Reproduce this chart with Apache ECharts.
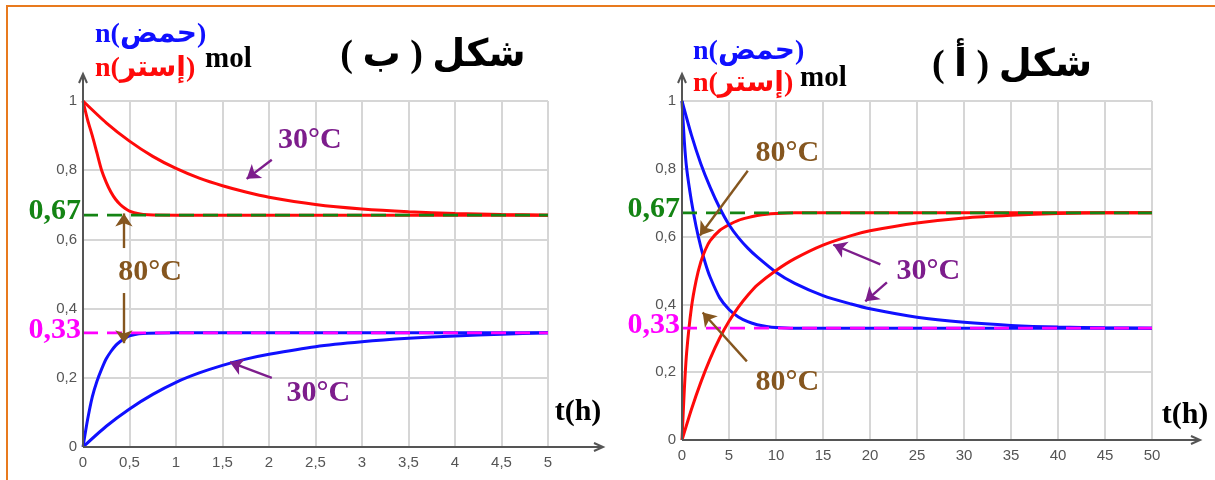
<!DOCTYPE html>
<html><head><meta charset="utf-8">
<script src="https://cdn.jsdelivr.net/npm/echarts@6/dist/echarts.min.js"></script>
<style>html,body{margin:0;padding:0;background:#fff}#c{width:1215px;height:480px}</style>
</head><body><div id="c"></div><script>
// ---------- Figure (ب) : ester n decreasing / acid n increasing, t in hours 0..5 ----------
const tB80 = [0,0.05,0.1,0.15,0.2,0.25,0.3,0.35,0.4,0.45,0.5,0.6,0.7,1,2,3,4,5];
const esterB80 = [1,0.945,0.9,0.85,0.8,0.765,0.737,0.716,0.701,0.69,0.682,0.674,0.671,0.67,0.67,0.67,0.67,0.67];
const acidB80 = [0,0.08,0.145,0.19,0.225,0.255,0.276,0.293,0.305,0.314,0.321,0.327,0.329,0.33,0.33,0.33,0.33,0.33];
const tB30 = [0,0.25,0.5,0.75,1,1.25,1.5,1.75,2,2.5,3,3.5,4,4.5,5];
const esterB30 = [1,0.937,0.884,0.84,0.805,0.777,0.755,0.737,0.722,0.701,0.688,0.68,0.675,0.672,0.67];
const acidB30 = [0,0.06,0.11,0.152,0.187,0.214,0.236,0.254,0.268,0.29,0.304,0.314,0.321,0.326,0.33];
// ---------- Figure (أ) : acid n decreasing / ester n increasing, t in hours 0..50 ----------
const tA80 = [0,0.25,0.5,1,1.5,2,2.5,3,4,5,6,7,8,9,10,12,20,30,40,50];
const acidA80 = [1,0.88,0.8,0.705,0.63,0.57,0.52,0.48,0.42,0.385,0.363,0.349,0.34,0.335,0.332,0.33,0.33,0.33,0.33,0.33];
const esterA80 = [0,0.15,0.26,0.39,0.47,0.525,0.562,0.588,0.618,0.635,0.648,0.656,0.662,0.666,0.668,0.67,0.67,0.67,0.67,0.67];
const tA30 = [0,1,2,3,4,5,6,7,8,10,12,15,18,20,25,30,35,40,45,50];
const esterA30 = [0,0.09,0.17,0.24,0.3,0.35,0.392,0.427,0.457,0.5,0.535,0.575,0.603,0.617,0.64,0.655,0.663,0.668,0.67,0.67];
const acidA30 = [1,0.9,0.815,0.745,0.685,0.635,0.597,0.566,0.54,0.495,0.462,0.426,0.401,0.387,0.362,0.347,0.338,0.333,0.331,0.33];
// equilibrium values
const eqEster = 0.67, eqAcid = 0.33;
const eqLabels = ['0,67', '0,33'];
// tick labels
const yTicks = ['0','0,2','0,4','0,6','0,8','1'];
const xTicksB = ['0','0,5','1','1,5','2','2,5','3','3,5','4','4,5','5'];
const xTicksA = ['0','5','10','15','20','25','30','35','40','45','50'];
// texts
const titleB = '\u200Fشكل ( ب )\u200F';
const titleA = '\u200Fشكل ( أ )\u200F';
const acidName = 'n(حمض)', esterName = 'n(إستر)', unitName = 'mol', tName = 't(h)';
// annotations (data space)
const PURPLE = '#7d1d8c', BROWN = '#85561f';
const annB = [['30°C', PURPLE, 2.44, 0.887], ['80°C', BROWN, 0.72, 0.506], ['30°C', PURPLE, 2.53, 0.156]];
const arrowsB = [[2.03,0.83,1.76,0.775,PURPLE],[0.44,0.575,0.44,0.675,BROWN],[0.44,0.445,0.44,0.30,BROWN],[2.03,0.2,1.58,0.245,PURPLE]];
const annA = [['80°C', BROWN, 11.2, 0.847], ['30°C', PURPLE, 26.2, 0.497], ['80°C', BROWN, 11.2, 0.17]];
const arrowsA = [[7.0,0.794,1.9,0.603,BROWN],[21.1,0.518,16.1,0.576,PURPLE],[21.8,0.465,19.5,0.409,PURPLE],[6.9,0.232,2.2,0.376,BROWN]];

const RED = '#ff0a0a', BLUE = '#1010ff', GREEN = '#148414', MAGENTA = '#ff00ff';
const zip = (xs, ys) => xs.map((x, i) => [x, ys[i]]);
const tickFont = "'Liberation Sans Narrow', 'Liberation Sans', Arial, sans-serif";
const serif = "'Liberation Serif', 'DejaVu Serif', serif";
const arab = "'Liberation Serif', 'DejaVu Sans', serif";

function xAxisCfg(idx, max, interval, ticks) {
  return {
    type: 'value', gridIndex: idx, min: 0, max: max, interval: interval,
    axisLine: {show: false}, axisTick: {show: false},
    axisLabel: {color: '#555', fontSize: 15, fontFamily: tickFont, margin: 8,
      formatter: v => ticks[Math.round(v / interval)]},
    splitLine: {show: true, lineStyle: {color: '#d6d6d6', width: 2}}
  };
}
function yAxisCfg(idx) {
  return {
    type: 'value', gridIndex: idx, min: 0, max: 1, interval: 0.2,
    axisLine: {show: false}, axisTick: {show: false},
    axisLabel: {color: '#555', fontSize: 15, fontFamily: tickFont, margin: 6,
      formatter: v => yTicks[Math.round(v / 0.2)]},
    splitLine: {show: true, lineStyle: {color: '#d6d6d6', width: 2}}
  };
}
function curve(idx, data, color) {
  return {type: 'line', xAxisIndex: idx, yAxisIndex: idx, data: data, showSymbol: false,
    smooth: 0.25, lineStyle: {color: color, width: 3}, z: 3, silent: true};
}
function dashed(idx, xmax, y, color) {
  return {type: 'line', xAxisIndex: idx, yAxisIndex: idx, data: [[0, y], [xmax, y]], showSymbol: false,
    lineStyle: {color: color, width: 2.8, type: [15, 9]}, z: 4, silent: true};
}
function arrows(idx, list) {
  return {type: 'lines', coordinateSystem: 'cartesian2d', xAxisIndex: idx, yAxisIndex: idx,
    symbol: ['none', 'arrow'], symbolSize: 13, z: 5, silent: true,
    data: list.map(a => ({coords: [[a[0], a[1]], [a[2], a[3]]], lineStyle: {color: a[4], width: 2.4, opacity: 1}}))};
}

const chart = echarts.init(document.getElementById('c'), null, {renderer: 'canvas'});
chart.setOption({
  animation: false,
  backgroundColor: '#fff',
  grid: [
    {left: 83, top: 101, width: 465, height: 346},
    {left: 682, top: 101, width: 470, height: 339}
  ],
  xAxis: [xAxisCfg(0, 5, 0.5, xTicksB), xAxisCfg(1, 50, 5, xTicksA)],
  yAxis: [yAxisCfg(0), yAxisCfg(1)],
  series: [
    curve(0, zip(tB30, esterB30), RED),
    curve(0, zip(tB80, esterB80), RED),
    curve(0, zip(tB30, acidB30), BLUE),
    curve(0, zip(tB80, acidB80), BLUE),
    curve(1, zip(tA80, acidA80), BLUE),
    curve(1, zip(tA80, esterA80), RED),
    curve(1, zip(tA30, acidA30), BLUE),
    curve(1, zip(tA30, esterA30), RED),
    dashed(0, 5, eqEster, GREEN),
    dashed(0, 5, eqAcid, MAGENTA),
    dashed(1, 50, eqEster, GREEN),
    dashed(1, 50, eqAcid, MAGENTA),
    arrows(0, arrowsB),
    arrows(1, arrowsA)
  ]
});

function px(i, x, y) { return chart.convertToPixel({xAxisIndex: i, yAxisIndex: i}, [x, y]); }
function txt(text, x, y, font, fill, align) {
  return {type: 'text', silent: true, z: 10, style: {text: text, x: x, y: y, font: font, fill: fill,
    align: align || 'center', verticalAlign: 'middle', textAlign: align || 'center', textVerticalAlign: 'middle'}};
}
const g = [];
// frame
g.push({type: 'polyline', silent: true, shape: {points: [[7, 480], [7, 6], [1215, 6]]},
  style: {stroke: '#e87a1e', lineWidth: 2, fill: null}});
// axes with arrows
[[0, 5, 74, 603], [1, 50, 74, 1200]].forEach(([i, xmax, yTop, xEnd]) => {
  const o = px(i, 0, 0);
  const axStyle = {stroke: '#555', lineWidth: 2, fill: null};
  g.push({type: 'line', silent: true, z: 6, shape: {x1: o[0], y1: o[1], x2: o[0], y2: yTop}, style: axStyle});
  g.push({type: 'line', silent: true, z: 6, shape: {x1: o[0], y1: o[1], x2: xEnd, y2: o[1]}, style: axStyle});
  g.push({type: 'polyline', silent: true, z: 6, shape: {points: [[o[0] - 4, yTop + 9], [o[0], yTop], [o[0] + 4, yTop + 9]]}, style: axStyle});
  g.push({type: 'polyline', silent: true, z: 6, shape: {points: [[xEnd - 9, o[1] - 4], [xEnd, o[1]], [xEnd - 9, o[1] + 4]]}, style: axStyle});
  // equilibrium labels
  const pE = px(i, 0, eqEster), pA = px(i, 0, eqAcid);
  g.push(txt(eqLabels[0], pE[0] - 2, pE[1] - 4, 'bold 30px ' + serif, GREEN, 'right'));
  g.push(txt(eqLabels[1], pA[0] - 2, pA[1] - 3, 'bold 30px ' + serif, MAGENTA, 'right'));
});
// annotations
annB.forEach(a => { const p = px(0, a[2], a[3]); g.push(txt(a[0], p[0], p[1], 'bold 30px ' + serif, a[1])); });
annA.forEach(a => { const p = px(1, a[2], a[3]); g.push(txt(a[0], p[0], p[1], 'bold 30px ' + serif, a[1])); });
// titles & axis names
g.push(txt(titleB, 433, 56, 'bold 38px ' + arab, '#000'));
g.push(txt(titleA, 1012, 66, 'bold 38px ' + arab, '#000'));
g.push(txt(acidName, 95, 35, 'bold 28px ' + arab, BLUE, 'left'));
g.push(txt(esterName, 95, 69, 'bold 28px ' + arab, RED, 'left'));
g.push(txt(unitName, 205, 60, 'bold 29px ' + serif, '#000', 'left'));
g.push(txt(acidName, 693, 52, 'bold 28px ' + arab, BLUE, 'left'));
g.push(txt(esterName, 693, 84, 'bold 28px ' + arab, RED, 'left'));
g.push(txt(unitName, 800, 79, 'bold 29px ' + serif, '#000', 'left'));
g.push(txt(tName, 578, 412, 'bold 30px ' + serif, '#000'));
g.push(txt(tName, 1185, 415, 'bold 30px ' + serif, '#000'));
chart.setOption({graphic: g});
</script></body></html>
